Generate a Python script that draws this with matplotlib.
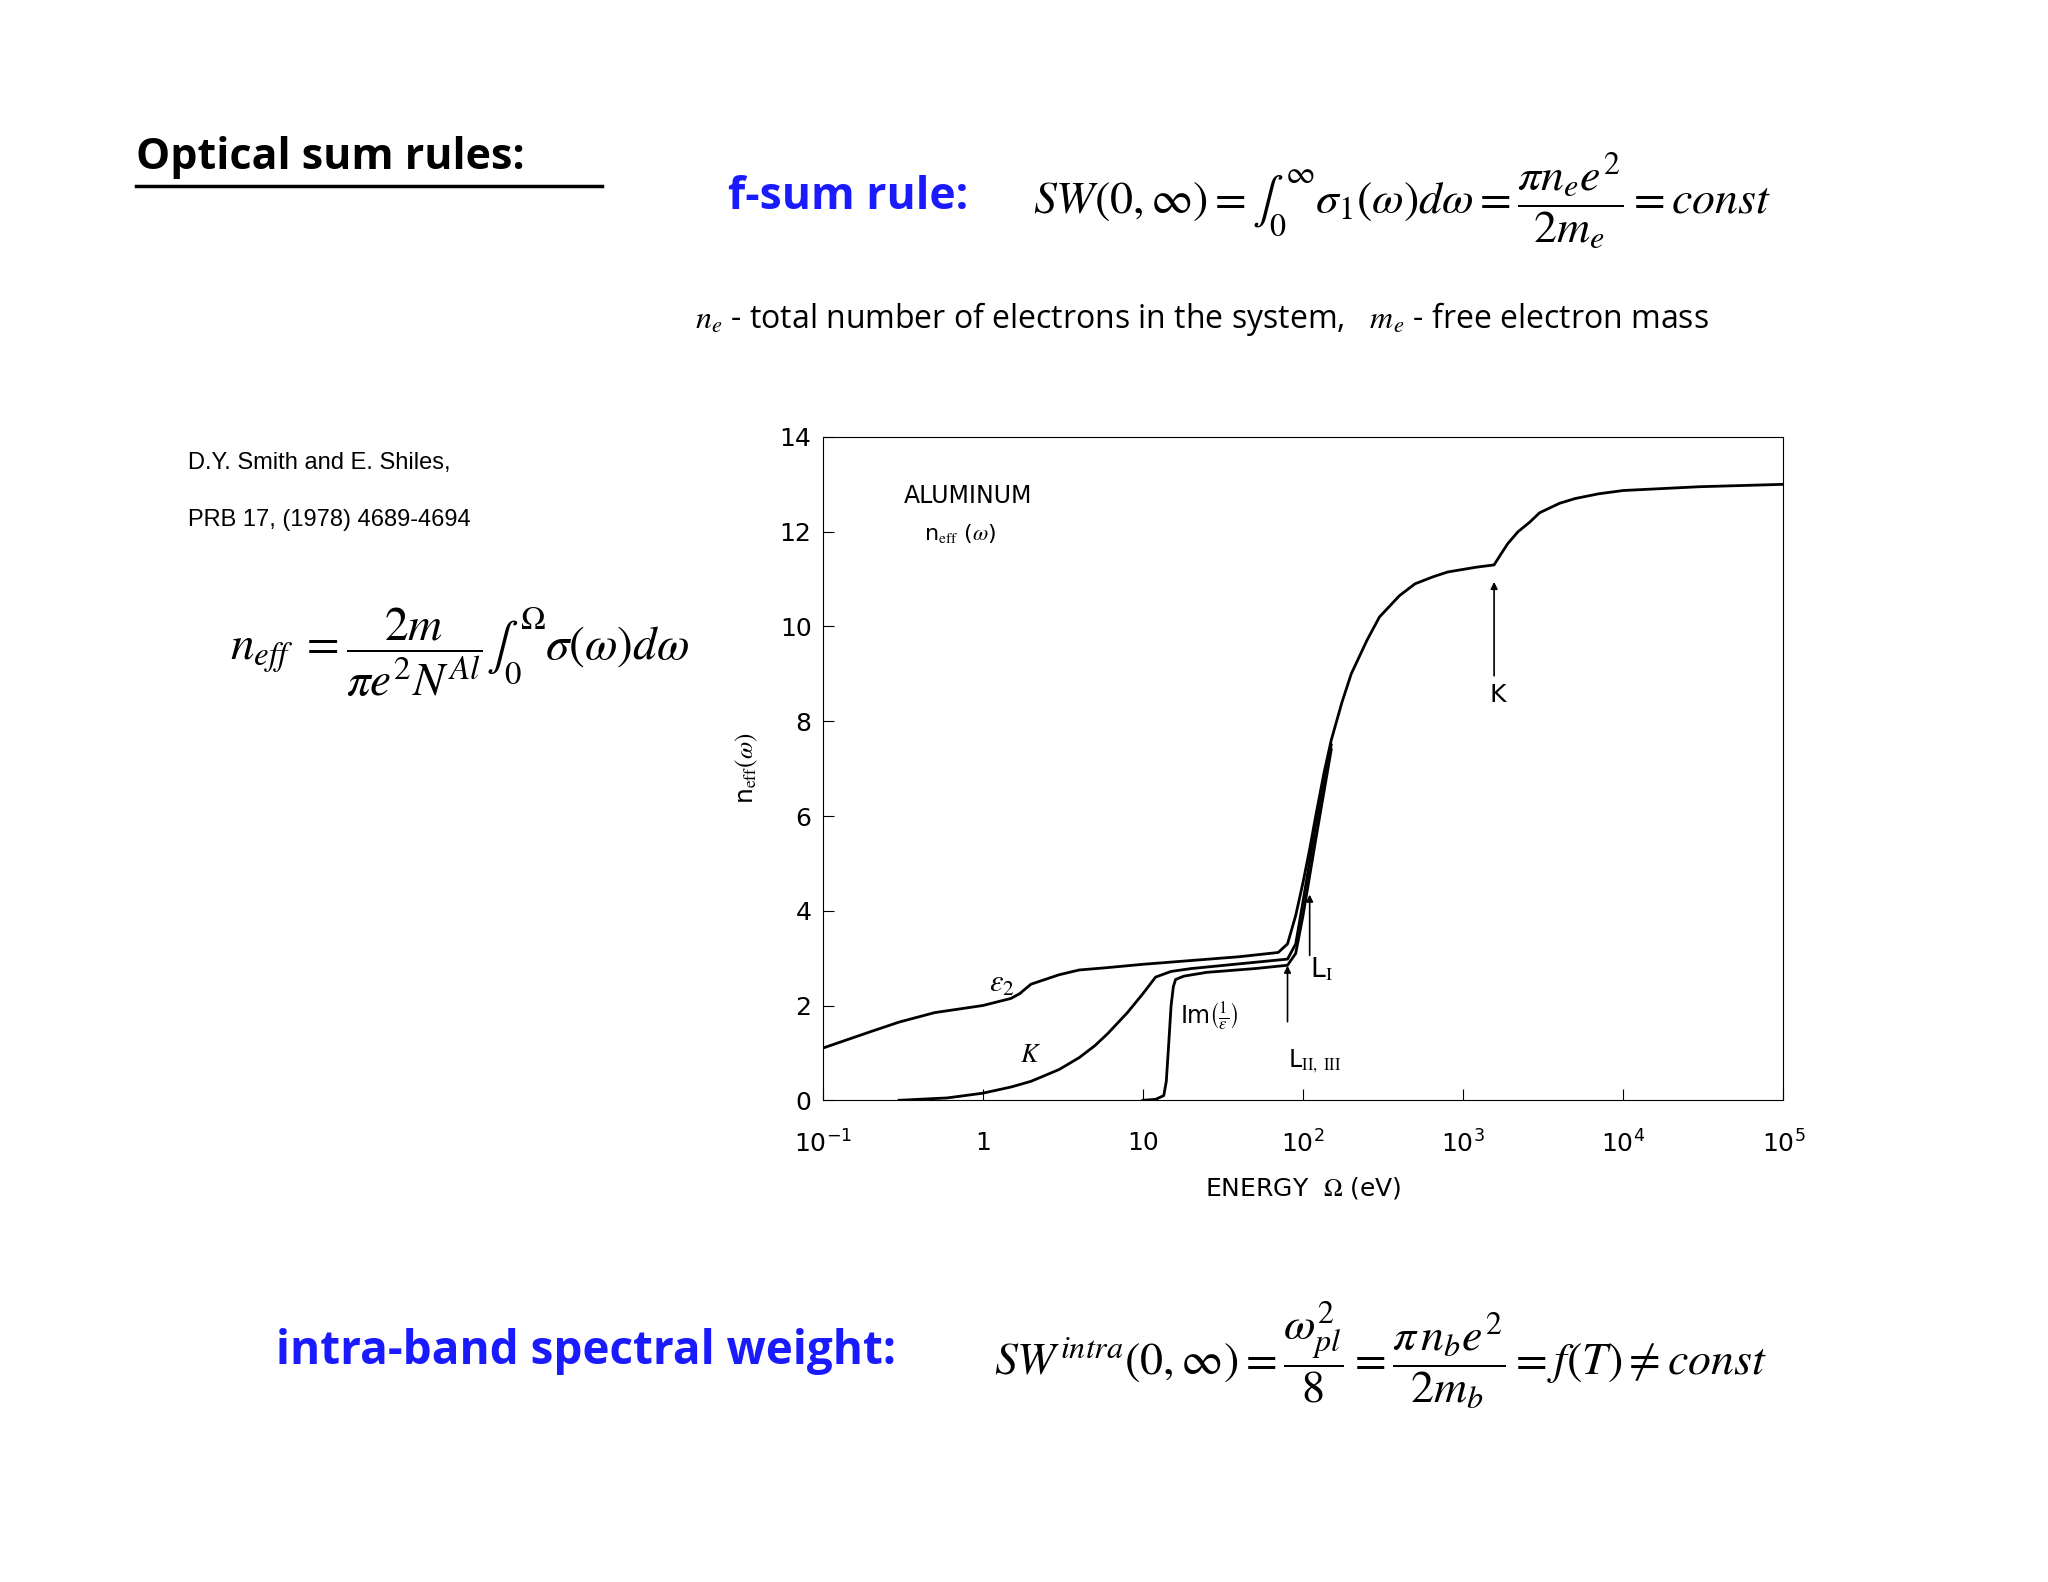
import matplotlib
matplotlib.use("Agg")
import matplotlib.pyplot as plt
import numpy as np

plt.rcParams['mathtext.fontset'] = 'stix'

eps2_x = [0.1, 0.2, 0.3, 0.5, 1, 1.5, 1.7, 2, 3, 4, 6, 10, 20, 40, 70, 80, 90, 100, 110, 120, 135, 150, 175, 200, 250, 300, 400, 500, 650, 800, 1200, 1560, 1700, 1900, 2200, 2600, 3000, 4000, 5000, 7000, 10000, 30000, 100000]
eps2_y = [1.1, 1.45, 1.65, 1.85, 2.0, 2.15, 2.25, 2.45, 2.65, 2.75, 2.8, 2.87, 2.95, 3.03, 3.12, 3.3, 3.9, 4.6, 5.3, 6.0, 6.9, 7.6, 8.4, 9.0, 9.7, 10.2, 10.65, 10.9, 11.05, 11.15, 11.25, 11.3, 11.5, 11.75, 12.0, 12.2, 12.4, 12.6, 12.7, 12.8, 12.87, 12.95, 13.0]
k_x = [0.3, 0.6, 1, 1.5, 2, 3, 4, 5, 6, 8, 10, 12, 15, 20, 40, 80, 90, 100, 120, 150]
k_y = [0.0, 0.05, 0.15, 0.28, 0.4, 0.65, 0.9, 1.15, 1.4, 1.85, 2.25, 2.6, 2.72, 2.78, 2.88, 2.98, 3.3, 4.2, 5.8, 7.5]
im_x = [10, 12, 13.5, 14, 14.5, 15, 15.5, 16, 18, 25, 50, 80, 90, 100, 120, 150]
im_y = [0.0, 0.02, 0.1, 0.4, 1.2, 2.0, 2.4, 2.55, 2.62, 2.7, 2.78, 2.85, 3.1, 3.9, 5.5, 7.4]
xticks = [0.1, 1, 10, 100, 1000, 10000, 100000]
xticklabels = ['$\\mathregular{10^{-1}}$', '1', '10', '$\\mathregular{10^2}$', '$\\mathregular{10^3}$', '$\\mathregular{10^4}$', '$\\mathregular{10^5}$']
yticks = [0, 2, 4, 6, 8, 10, 12, 14]

W, H = 1556, 1202
fig = plt.figure(figsize=(20.48, 15.82), dpi=100)
def T(x, y, s, **kw):
    return fig.text(x / W, 1 - y / H, s, **kw)

T(103, 120, 'Optical sum rules:', fontsize=31, fontweight='bold', family='Open Sans', va='center')
fig.add_artist(plt.Line2D([103 / W, 457 / W], [1 - 141 / H, 1 - 141 / H], color='black', lw=2.5))
T(553, 150, 'f-sum rule:', fontsize=32, fontweight='bold', color='#1a1aff', family='Open Sans', va='center')
T(785, 152, r'$SW(0,\infty)=\int_0^{\infty}\sigma_1(\omega)d\omega=\dfrac{\pi n_e e^2}{2m_e}=const$', fontsize=33, va='center')
T(528, 242, r'$n_e$ - total number of electrons in the system,   $m_e$ - free electron mass', fontsize=23, family='Open Sans', va='center')
T(143, 352, 'D.Y. Smith and E. Shiles,', fontsize=17, family='Liberation Sans', va='center')
T(143, 395, 'PRB 17, (1978) 4689-4694', fontsize=17, family='Liberation Sans', va='center')
T(175, 495, r'$n_{eff}\ =\dfrac{2m}{\pi e^2 N^{Al}}\int_0^{\Omega}\sigma(\omega)d\omega$', fontsize=34, va='center')
T(210, 1027, 'intra-band spectral weight:', fontsize=33, fontweight='bold', color='#1a1aff', family='Open Sans', va='center')
T(755, 1030, r'$SW^{intra}(0,\infty)=\dfrac{\omega_{pl}^2}{8}=\dfrac{\pi\, n_b e^2}{2m_b}=f(T)\neq const$', fontsize=33, va='center')

ax = fig.add_axes([625 / W, 1 - 836 / H, 730 / W, 504 / H])
ax.plot(eps2_x, eps2_y, color='black', lw=2)
ax.plot(k_x, k_y, color='black', lw=2)
ax.plot(im_x, im_y, color='black', lw=2)
ax.set_xscale('log')
ax.set_xlim(0.1, 100000)
ax.set_ylim(0, 14)
ax.set_xticks(xticks)
ax.set_xticklabels(xticklabels, fontsize=18)
ax.xaxis.set_minor_locator(matplotlib.ticker.NullLocator())
ax.set_yticks(yticks)
ax.tick_params(labelsize=18, direction='in', length=8)
ax.tick_params(axis='x', pad=22)
ax.tick_params(axis='y', pad=8)
ax.set_xlabel(r'ENERGY  $\Omega$ (eV)', fontsize=18, labelpad=12)
ax.set_ylabel(r'n$_{\rm eff}(\omega)$', fontsize=18, labelpad=14)
ax.text(0.085, 0.9, 'ALUMINUM', transform=ax.transAxes, fontsize=17)
ax.text(0.105, 0.845, r'n$_{\rm eff}$ ($\omega$)', transform=ax.transAxes, fontsize=16)
ax.text(1.1, 2.3, r'$\epsilon_2$', fontsize=22)
ax.text(1.7, 0.8, r'$K$', fontsize=19)
ax.text(17, 1.6, r'Im$\left(\frac{1}{\epsilon}\right)$', fontsize=17)
ax.text(110, 2.6, r'L$_{\rm I}$', fontsize=19)
ax.text(80, 0.7, r'L$_{\rm II,\ III}$', fontsize=17)
ax.text(1450, 8.4, 'K', fontsize=18)
ax.annotate('', xy=(1560, 11.0), xytext=(1560, 8.9), arrowprops=dict(arrowstyle='-|>', color='black', lw=1.2))
ax.annotate('', xy=(110, 4.4), xytext=(110, 3.0), arrowprops=dict(arrowstyle='-|>', color='black', lw=1.2))
ax.annotate('', xy=(80, 2.9), xytext=(80, 1.6), arrowprops=dict(arrowstyle='-|>', color='black', lw=1.2))
fig.savefig('out.png', dpi=100)
